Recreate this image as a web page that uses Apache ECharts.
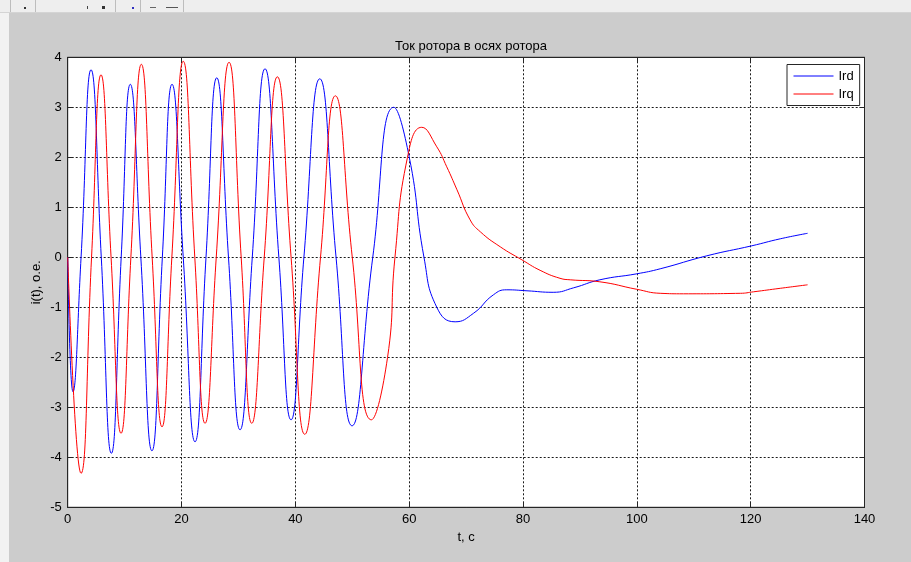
<!DOCTYPE html>
<html>
<head>
<meta charset="utf-8">
<title>Ток ротора в осях ротора</title>
<script src="https://cdn.jsdelivr.net/npm/echarts@6/dist/echarts.min.js"></script>
<style>
  html, body { margin: 0; padding: 0; background: #cccccc; }
  #chart { width: 911px; height: 562px; }
</style>
</head>
<body>
<div id="chart"></div>
<script>
// Rotor current components in rotor axes, t in seconds
const irdT = [0, 0.93, 2.35, 4.1, 5.9, 7.67, 9.4, 11.0, 12.85, 14.8, 16.63, 18.33, 20.3, 22.37,
  24.3, 26.19, 28.25, 30.28, 32.43, 34.67, 37.1, 39.24, 41.5, 44.29, 47.15, 49.96, 53.6, 57.3,
  60.0, 62.6, 64.85, 68.07, 71.3, 74.8, 77.15, 80.7, 85.3, 88.9, 93.5, 100, 104.1, 112.3,
  120.2, 125.2, 130];
const irdV = [0, -2.69, 0, 3.75, 0, -3.92, 0, 3.46, 0, -3.87, 0, 3.46, 0, -3.69,
  0, 3.59, 0, -3.45, 0, 3.77, 0, -3.25, 0, 3.57, 0, -3.37, 0, 3.0,
  2.01, 0, -1.0, -1.29, -1.12, -0.75, -0.65, -0.67, -0.7, -0.61, -0.45, -0.33, -0.23, 0.03,
  0.23, 0.37, 0.48];

const irqT = [0, 2.34, 4.19, 5.85, 7.62, 9.37, 11.1, 12.94, 14.84, 16.57, 18.3, 20.3, 22.33,
  24.13, 26.1, 28.35, 30.48, 32.34, 34.53, 36.84, 39.25, 41.65, 44.42, 47.03, 50.0, 53.36,
  56.2, 57.5, 59.7, 62.2, 64.85, 66.6, 68.4, 70.7, 72.5, 76.0, 79.8, 83.0, 86.5, 88.3, 93.5,
  100, 104.1, 108.2, 118.2, 120.5, 125.2, 130];
const irqV = [0, -4.32, 0, 3.65, 0, -3.52, 0, 3.86, 0, -3.39, 0, 3.92, 0,
  -3.32, 0, 3.9, 0, -3.32, 0, 3.61, 0, -3.54, 0, 3.23, 0, -3.25,
  -2.0, 0, 2.0, 2.6, 2.21, 1.81, 1.35, 0.75, 0.51, 0.21, -0.05, -0.26, -0.42, -0.45, -0.49,
  -0.64, -0.72, -0.73, -0.72, -0.69, -0.62, -0.55];

const xTicks = { min: 0, max: 140, step: 20 };
const yTicks = { min: -5, max: 4, step: 1 };

const seriesNames = ['Ird', 'Irq'];
const seriesColors = ['#0000ff', '#ff0000'];
const titleText = 'Ток ротора в осях ротора';
const xName = 't, с';
const yName = 'i(t), о.е.';

const pairs = (ts, vs) => ts.map((t, i) => [t, vs[i]]);

const FONT = '"Liberation Sans", Arial, sans-serif';
const gridStyle = { color: '#1a1a1a', width: 1, type: [2, 2] };
const boxColor = '#262626';

const chart = echarts.init(document.getElementById('chart'), null, { renderer: 'canvas' });

const baseX = {
  type: 'value', min: xTicks.min, max: xTicks.max, interval: xTicks.step
};
const baseY = {
  type: 'value', min: yTicks.min, max: yTicks.max, interval: yTicks.step
};
const frameLine = { show: true, onZero: false, lineStyle: { color: boxColor } };
const inTick = { show: true, inside: true, length: 5, lineStyle: { color: boxColor } };

chart.setOption({
  backgroundColor: '#cccccc',
  animation: false,
  textStyle: { fontFamily: FONT },
  title: {
    text: titleText,
    left: 466, top: 35, textAlign: 'center',
    textStyle: { fontFamily: FONT, fontSize: 13, fontWeight: 'normal', color: '#000' }
  },
  legend: {
    data: seriesNames,
    orient: 'vertical',
    left: 787, top: 64.5,
    padding: [5, 6, 5, 6],
    itemGap: 5,
    itemWidth: 40, itemHeight: 14,
    // plain line keys, no point markers
    itemStyle: { opacity: 0 },
    lineStyle: { width: 1 },
    backgroundColor: '#ffffff',
    borderColor: boxColor, borderWidth: 1, borderRadius: 0,
    textStyle: { fontFamily: FONT, fontSize: 13, color: '#000' }
  },
  grid: {
    left: 67.7, right: 46.5, top: 57.3, bottom: 54.7,
    show: true, backgroundColor: '#ffffff', borderColor: boxColor, borderWidth: 1
  },
  xAxis: [
    Object.assign({}, baseX, {
      position: 'bottom',
      name: xName, nameLocation: 'middle', nameGap: 24,
      nameMoveOverlap: false,
      nameTextStyle: { fontFamily: FONT, fontSize: 13, color: '#000' },
      axisLine: frameLine,
      axisTick: inTick,
      axisLabel: { show: true, margin: 6, color: '#000', fontSize: 13, fontFamily: FONT },
      splitLine: { show: true, lineStyle: gridStyle }
    }),
    Object.assign({}, baseX, {
      position: 'top',
      axisLine: frameLine,
      axisTick: inTick,
      axisLabel: { show: false },
      splitLine: { show: false }
    })
  ],
  yAxis: [
    Object.assign({}, baseY, {
      position: 'left',
      name: yName, nameLocation: 'middle', nameGap: 25,
      nameMoveOverlap: false,
      nameTextStyle: { fontFamily: FONT, fontSize: 13, color: '#000' },
      axisLine: frameLine,
      axisTick: inTick,
      axisLabel: { show: true, margin: 6, color: '#000', fontSize: 13, fontFamily: FONT },
      splitLine: { show: true, lineStyle: gridStyle }
    }),
    Object.assign({}, baseY, {
      position: 'right',
      axisLine: frameLine,
      axisTick: inTick,
      axisLabel: { show: false },
      splitLine: { show: false }
    })
  ],
  series: [
    {
      name: seriesNames[0], type: 'line', xAxisIndex: 0, yAxisIndex: 0,
      data: pairs(irdT, irdV),
      smooth: 0.5, symbol: 'none',
      lineStyle: { color: seriesColors[0], width: 1 }, itemStyle: { color: seriesColors[0] }
    },
    {
      name: seriesNames[1], type: 'line', xAxisIndex: 0, yAxisIndex: 0,
      data: pairs(irqT, irqV),
      smooth: 0.5, symbol: 'none',
      lineStyle: { color: seriesColors[1], width: 1 }, itemStyle: { color: seriesColors[1] }
    }
  ],
  graphic: [
    // window toolbar strip and left frame edge
    { type: 'rect', shape: { x: 0, y: 0, width: 911, height: 12 }, style: { fill: '#eeeeee' }, silent: true },
    { type: 'line', shape: { x1: 0, y1: 12.5, x2: 911, y2: 12.5 }, style: { stroke: '#d4d4d4', lineWidth: 1 }, silent: true },
    { type: 'rect', shape: { x: 0, y: 13, width: 9, height: 549 }, style: { fill: '#f2f2f2' }, silent: true },
    { type: 'line', shape: { x1: 10.5, y1: 0, x2: 10.5, y2: 12 }, style: { stroke: '#bdbdbd', lineWidth: 1 }, silent: true },
    { type: 'line', shape: { x1: 35.5, y1: 0, x2: 35.5, y2: 12 }, style: { stroke: '#bdbdbd', lineWidth: 1 }, silent: true },
    { type: 'line', shape: { x1: 115.5, y1: 0, x2: 115.5, y2: 12 }, style: { stroke: '#bdbdbd', lineWidth: 1 }, silent: true },
    { type: 'line', shape: { x1: 140.5, y1: 0, x2: 140.5, y2: 12 }, style: { stroke: '#bdbdbd', lineWidth: 1 }, silent: true },
    { type: 'line', shape: { x1: 183.5, y1: 0, x2: 183.5, y2: 12 }, style: { stroke: '#bdbdbd', lineWidth: 1 }, silent: true },
    { type: 'rect', shape: { x: 24, y: 7, width: 2, height: 2 }, style: { fill: '#333' }, silent: true },
    { type: 'rect', shape: { x: 87, y: 6, width: 1, height: 3 }, style: { fill: '#444' }, silent: true },
    { type: 'rect', shape: { x: 102, y: 6, width: 3, height: 3 }, style: { fill: '#333' }, silent: true },
    { type: 'rect', shape: { x: 132, y: 7, width: 2, height: 2 }, style: { fill: '#3030c0' }, silent: true },
    { type: 'rect', shape: { x: 150, y: 7, width: 6, height: 1 }, style: { fill: '#666' }, silent: true },
    { type: 'rect', shape: { x: 166, y: 7, width: 12, height: 1 }, style: { fill: '#555' }, silent: true }
  ]
});
</script>
</body>
</html>
